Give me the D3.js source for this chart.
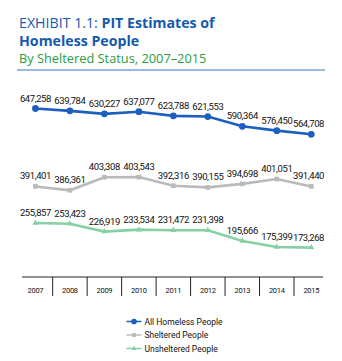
<!DOCTYPE html>
<html>
<head>
<meta charset="utf-8">
<script src="https://cdn.jsdelivr.net/npm/d3@7"></script>
<style>
  body { margin: 0; background: #fff; }
  svg { display: block; }
</style>
</head>
<body>
<div id="chart"></div>
<script>
const width = 342;
const height = 361;

const years = ["2007", "2008", "2009", "2010", "2011", "2012", "2013", "2014", "2015"];
const allHomeless = [647258, 639784, 630227, 637077, 623788, 621553, 590364, 576450, 564708];
const sheltered = [391401, 386361, 403308, 403543, 392316, 390155, 394698, 401051, 391440];
const unsheltered = [255857, 253423, 226919, 233534, 231472, 231398, 195666, 175399, 173268];

const labelFont = "Roboto, sans-serif";
const titleFont = "'Open Sans', sans-serif";

const svg = d3.select("#chart").append("svg")
    .attr("width", width)
    .attr("height", height);

// Title block
const title = svg.append("text")
    .attr("x", 19)
    .attr("y", 28)
    .attr("fill", "#1459b0")
    .style("font-family", titleFont)
    .style("font-size", "14.2px");
title.append("tspan").text("EXHIBIT 1.1: ");
title.append("tspan").attr("font-weight", "bold").text("PIT Estimates of");

svg.append("text")
    .attr("x", 19)
    .attr("y", 45.5)
    .attr("fill", "#1459b0")
    .attr("font-weight", "bold")
    .style("font-family", titleFont)
    .style("font-size", "14.2px")
    .text("Homeless People");

svg.append("text")
    .attr("x", 19)
    .attr("y", 62.5)
    .attr("fill", "#2b9b45")
    .style("font-family", titleFont)
    .style("font-size", "12.8px")
    .text("By Sheltered Status, 2007–2015");

svg.append("line")
    .attr("x1", 17).attr("x2", 325)
    .attr("y1", 70).attr("y2", 70)
    .attr("stroke", "#76a3da")
    .attr("stroke-width", 1.3);

// x scale: one band per year
const x = d3.scaleBand()
    .domain(years)
    .range([18.2, 328.5]);
const cx = d => x(d) + x.bandwidth() / 2;

// each series sits in its own vertical strip
const series = [
    {
        name: "All Homeless People", values: allHomeless, color: "#1d5fbf", symbol: d3.symbolCircle, size: 36,
        y: d3.scaleLinear().domain([564708, 647258]).range([134.3, 108.5])
    },
    {
        name: "Sheltered People", values: sheltered, color: "#b8babd", symbol: d3.symbolSquare, size: 22,
        y: d3.scaleLinear().domain([386361, 403543]).range([190.3, 177.1])
    },
    {
        name: "Unsheltered People", values: unsheltered, color: "#86d1a3", symbol: d3.symbolTriangle, size: 16,
        y: d3.scaleLinear().domain([173268, 255857]).range([247.6, 223.0])
    }
];

const fmt = d3.format(",");

series.forEach(s => {
    const pts = years.map((yr, i) => ({ year: yr, value: s.values[i] }));
    const line = d3.line()
        .x(d => cx(d.year))
        .y(d => s.y(d.value));

    svg.append("path")
        .datum(pts)
        .attr("d", line)
        .attr("fill", "none")
        .attr("stroke", s.color)
        .attr("stroke-width", 2.6);

    svg.append("g")
        .selectAll("path")
        .data(pts)
        .enter()
        .append("path")
        .attr("d", d3.symbol().type(s.symbol).size(s.size))
        .attr("transform", d => `translate(${cx(d.year)},${s.y(d.value)})`)
        .attr("fill", s.color);

    svg.append("g")
        .selectAll("text")
        .data(pts)
        .enter()
        .append("text")
        .attr("x", d => Math.min(cx(d.year), 308.5))
        .attr("y", d => s.y(d.value) - 7)
        .attr("text-anchor", "middle")
        .attr("fill", "#111")
        .style("font-family", labelFont)
        .style("font-size", "9.5px")
        .style("letter-spacing", "-0.4px")
        .text(d => fmt(d.value));
});

// x axis with separators between years
const axisY = 277;
svg.append("line")
    .attr("x1", 22).attr("x2", 323)
    .attr("y1", axisY).attr("y2", axisY)
    .attr("stroke", "#222")
    .attr("stroke-width", 1);

svg.append("g")
    .selectAll("line")
    .data(years.slice(1))
    .enter()
    .append("line")
    .attr("x1", d => x(d)).attr("x2", d => x(d))
    .attr("y1", axisY).attr("y2", 296)
    .attr("stroke", "#222")
    .attr("stroke-width", 1);

svg.append("g")
    .selectAll("text")
    .data(years)
    .enter()
    .append("text")
    .attr("x", d => cx(d))
    .attr("y", 293)
    .attr("text-anchor", "middle")
    .attr("fill", "#111")
    .style("font-family", labelFont)
    .style("font-size", "7.5px")
    .style("letter-spacing", "-0.3px")
    .text(d => d);

// legend
const legend = svg.append("g");
const rows = [321.5, 335, 348.5];
series.forEach((s, i) => {
    const g = legend.append("g").attr("transform", `translate(0,${rows[i]})`);
    g.append("line")
        .attr("x1", 126.5).attr("x2", 141.5)
        .attr("stroke", s.color)
        .attr("stroke-width", 1.5);
    g.append("path")
        .attr("d", d3.symbol().type(s.symbol).size(s.size * 0.7))
        .attr("transform", "translate(134,0)")
        .attr("fill", s.color);
    g.append("text")
        .attr("x", 144.5)
        .attr("y", 3)
        .attr("fill", "#111")
        .style("font-family", labelFont)
        .style("font-size", "8.5px")
        .text(s.name);
});
</script>
</body>
</html>
